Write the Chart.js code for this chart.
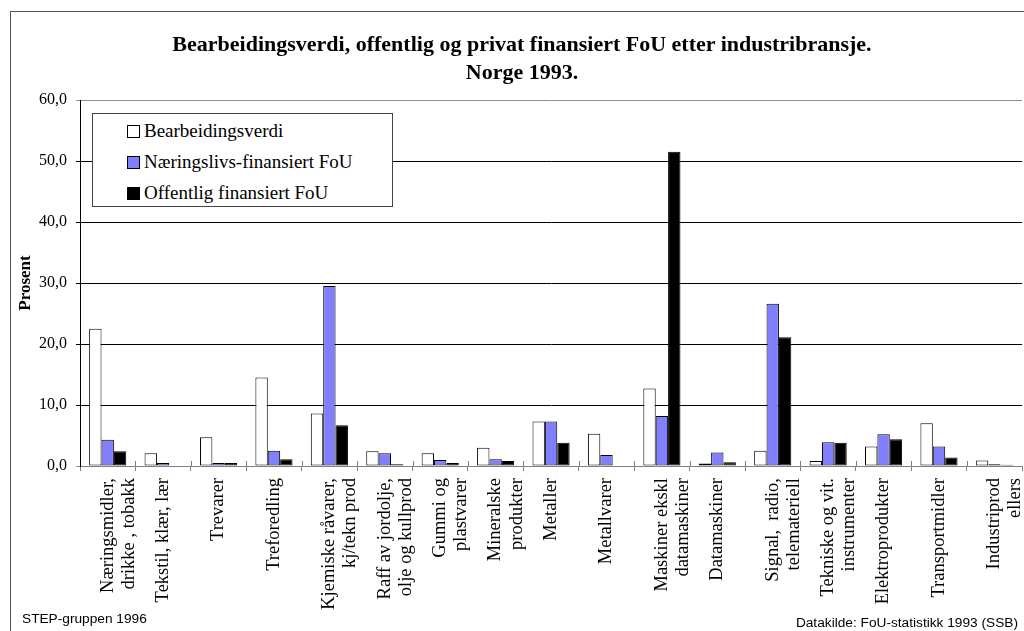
<!DOCTYPE html>
<html>
<head>
<meta charset="utf-8">
<script src="https://cdn.jsdelivr.net/npm/chart.js@4"></script>
<style>
  html, body { margin: 0; padding: 0; overflow: hidden; background: #fff; }
  #wrap { position: relative; width: 1024px; height: 631px; overflow: hidden; }
  #frame { position: absolute; left: 10px; top: 11px; width: 1040px; height: 660px; border: 1px solid #555; box-sizing: border-box; }
  canvas { position: absolute; left: 0; top: 0; }
  .title { position: absolute; left: 0; width: 1044px; text-align: center; font: bold 22px/26px "Liberation Serif", serif; color: #000; }
  #legend { position: absolute; left: 92px; top: 113px; width: 301px; height: 94px; box-sizing: border-box; border: 1px solid #444; background: #fff; font: 19px "Liberation Serif", serif; }
  #legend .item { position: absolute; left: 34px; height: 22px; line-height: 22px; white-space: nowrap; }
  #legend .sw { display: inline-block; width: 11px; height: 11px; border: 1px solid #000; vertical-align: -1px; margin-right: 4px; }
  .foot { position: absolute; font: 13.7px "Liberation Sans", Arial, sans-serif; color: #000; white-space: nowrap; }
</style>
</head>
<body>
<div id="wrap">
  <div id="frame"></div>
  <canvas id="chart" width="1044" height="631"></canvas>
  <div class="title" style="top:31px">Bearbeidingsverdi, offentlig og privat finansiert FoU etter industribransje.</div>
  <div class="title" style="top:59px">Norge 1993.</div>
  <div id="legend"></div>
  <div class="foot" style="left:22px; top:611px">STEP-gruppen 1996</div>
  <div class="foot" style="right:6px; top:615px">Datakilde: FoU-statistikk 1993 (SSB)</div>
</div>
<script>
// bransjer (to linjer der etiketten er brutt)
const categories = [
  ['Næringsmidler,', 'drikke , tobakk'],
  'Tekstil, klær, lær',
  'Trevarer',
  'Treforedling',
  ['Kjemiske råvarer,', 'kj/tekn prod'],
  ['Raff av jordolje,', 'olje og kullprod'],
  ['Gummi og', 'plastvarer'],
  ['Mineralske', 'produkter'],
  'Metaller',
  'Metallvarer',
  ['Maskiner ekskl', 'datamaskiner'],
  'Datamaskiner',
  ['Signal,  radio,', 'telemateriell'],
  ['Tekniske og vit.', 'instrumenter'],
  'Elektroprodukter',
  'Transportmidler',
  ['Industriprod', 'ellers']
];

const bearbeidingsverdi = [22.5, 2.1, 4.7, 14.5, 8.6, 2.4, 2.1, 3.0, 7.3, 5.3, 12.7, 0.4, 2.5, 0.8, 3.2, 7.0, 0.9];
const naeringslivFoU    = [4.3, 0.5, 0.5, 2.5, 29.5, 2.1, 1.0, 1.1, 7.3, 1.8, 8.2, 2.2, 26.6, 3.9, 5.2, 3.2, 0.3];
const offentligFoU      = [2.4, 0.1, 0.5, 1.1, 6.7, 0.3, 0.5, 0.8, 3.8, 0.1, 51.5, 0.6, 21.1, 3.8, 4.4, 1.4, 0.2];

const yTicks = [0, 10, 20, 30, 40, 50, 60];

const datasets = [
  { label: 'Bearbeidingsverdi', data: bearbeidingsverdi, backgroundColor: '#ffffff' },
  { label: 'Næringslivs-finansiert FoU', data: naeringslivFoU, backgroundColor: '#8080ff' },
  { label: 'Offentlig finansiert FoU', data: offentligFoU, backgroundColor: '#000000' }
].map(d => Object.assign(d, {
  borderColor: '#000',
  borderWidth: 1,
  borderSkipped: false,
  categoryPercentage: 0.67,
  barPercentage: 1.0
}));

// små tick-streker som går opp i plottet ved kategorigrensene
const innerTicks = {
  id: 'innerTicks',
  afterDraw(chart) {
    const x = chart.scales.x;
    const ctx = chart.ctx;
    const step = x.getPixelForValue(1) - x.getPixelForValue(0);
    ctx.save();
    ctx.strokeStyle = '#808080';
    ctx.lineWidth = 1;
    for (let i = 1; i < categories.length; i++) {
      const px = Math.round(x.getPixelForValue(i) - step / 2) + 0.5;
      ctx.beginPath();
      ctx.moveTo(px, x.top - 5);
      ctx.lineTo(px, x.top);
      ctx.stroke();
    }
    ctx.restore();
  }
};

new Chart(document.getElementById('chart'), {
  type: 'bar',
  data: { labels: categories, datasets: datasets },
  options: {
    responsive: false,
    animation: false,
    layout: { padding: { left: 0, top: 100, right: 14, bottom: 0 } },
    plugins: {
      legend: { display: false },
      title: { display: false },
      tooltip: { enabled: false }
    },
    scales: {
      x: {
        offset: true,
        afterFit(scale) { scale.height = 165; },
        grid: { drawOnChartArea: false, drawTicks: true, tickLength: 5, color: '#808080', offset: true },
        border: { color: '#808080' },
        ticks: {
          autoSkip: false,
          minRotation: 90,
          maxRotation: 90,
          padding: 7,
          color: '#000',
          font: { family: 'Liberation Serif', size: 18.5, lineHeight: 1.14 }
        }
      },
      y: {
        min: 0,
        max: 60,
        afterFit(scale) { scale.width = 80; },
        afterBuildTicks(scale) { scale.ticks = yTicks.map(v => ({ value: v })); },
        grid: {
          tickLength: 4,
          color: ctx => (ctx.tick && (ctx.tick.value === 60 || ctx.tick.value === 0)) ? '#909090' : '#000',
          lineWidth: 1
        },
        border: { color: '#000' },
        ticks: {
          padding: 9,
          color: '#000',
          font: { family: 'Liberation Serif', size: 16 },
          callback: v => v.toFixed(1).replace('.', ',')
        },
        title: {
          display: true,
          text: 'Prosent',
          color: '#000',
          padding: { top: 15, bottom: 0 },
          font: { family: 'Liberation Serif', size: 17, weight: 'bold' }
        }
      }
    }
  },
  plugins: [innerTicks]
});

// forklaring inne i plottet
const legend = document.getElementById('legend');
datasets.forEach((d, i) => {
  const item = document.createElement('div');
  item.className = 'item';
  item.style.top = (6 + i * 31) + 'px';
  const sw = document.createElement('span');
  sw.className = 'sw';
  sw.style.background = d.backgroundColor;
  item.appendChild(sw);
  item.appendChild(document.createTextNode(d.label));
  legend.appendChild(item);
});
</script>
</body>
</html>
